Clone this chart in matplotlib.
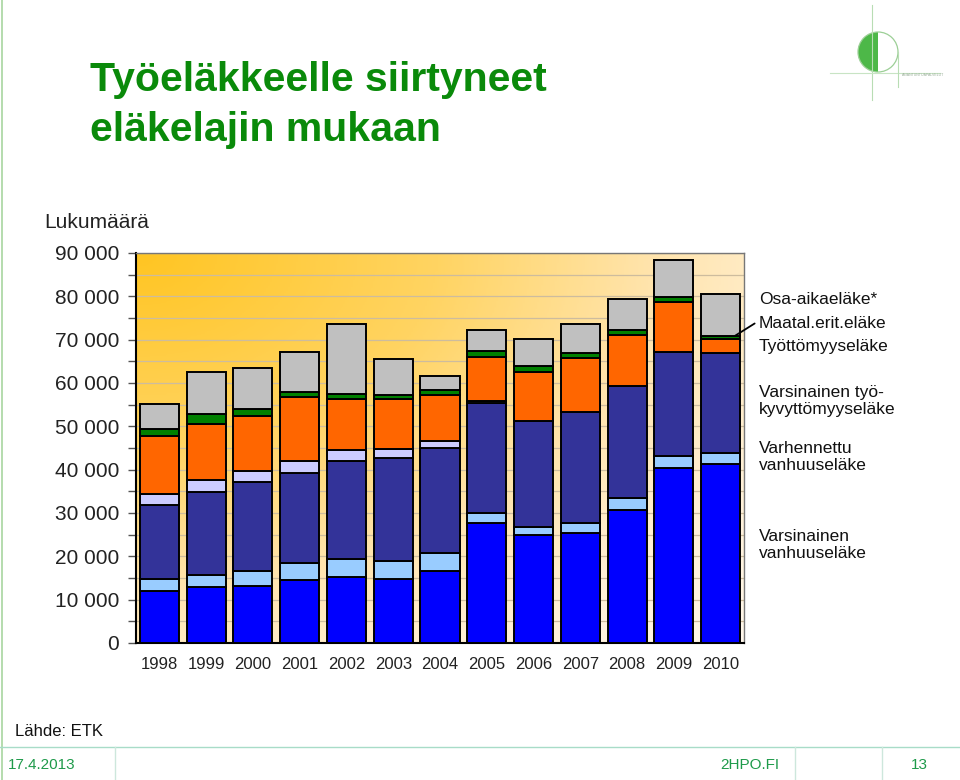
import numpy as np
import matplotlib
matplotlib.use("Agg")
import matplotlib.pyplot as plt
from matplotlib.patches import Ellipse, Wedge
from matplotlib.colors import LinearSegmentedColormap

years = ["1998", "1999", "2000", "2001", "2002", "2003", "2004",
         "2005", "2006", "2007", "2008", "2009", "2010"]

# stacked segments (bottom -> top)
varsinainen_vanhuus = [12000, 12900, 13200, 14500, 15200, 14800, 16600, 27600, 25000, 25500, 30700, 40500, 41400]
varhennettu_vanhuus = [2700, 2800, 3500, 4000, 4200, 4200, 4100, 2500, 1800, 2300, 2700, 2700, 2500]
tyokyvyttomyys = [17100, 19100, 20400, 20700, 22600, 23600, 24400, 25200, 24400, 25400, 25800, 24000, 23000]
yksilollinen = [2500, 2900, 2500, 2700, 2600, 2200, 1500, 600, 0, 0, 0, 0, 0]
tyottomyys = [13400, 12900, 12900, 14800, 11600, 11400, 10600, 10000, 11400, 12600, 11900, 11400, 3300]
maatal = [1700, 2200, 1500, 1300, 1300, 1000, 1200, 1500, 1300, 1100, 1100, 1200, 600]
osa_aika = [5800, 9700, 9500, 9100, 16100, 8300, 3200, 4800, 6200, 6700, 7100, 8600, 9800]

series = [varsinainen_vanhuus, varhennettu_vanhuus, tyokyvyttomyys, yksilollinen,
          tyottomyys, maatal, osa_aika]
colors = ["#0000FF", "#99CCFF", "#333399", "#CCCCFF", "#FF6600", "#008000", "#C0C0C0"]

yticks = [0, 10000, 20000, 30000, 40000, 50000, 60000, 70000, 80000, 90000]
ytick_labels = ["0", "10 000", "20 000", "30 000", "40 000", "50 000", "60 000",
                "70 000", "80 000", "90 000"]

legend_labels = [
    ("Osa-aikaeläke*", 300),
    ("Maatal.erit.eläke", 323),
    ("Työttömyyseläke", 346),
    ("Varsinainen työ-\nkyvyttömyyseläke", 401),
    ("Varhennettu\nvanhuuseläke", 457),
    ("Varsinainen\nvanhuuseläke", 545),
]

W, H = 960, 780
fig = plt.figure(figsize=(W / 100, H / 100), dpi=100)
fig.patch.set_facecolor("white")
plt.rcParams['font.family'] = ['Liberation Sans', 'DejaVu Sans']

def fx(px):
    return px / W

def fy(py):
    return 1 - py / H

ax = fig.add_axes([fx(136), fy(643), fx(744) - fx(136), fy(253) - fy(643)])

# gradient background: gold top-left -> pale cream bottom-right
cmap = LinearSegmentedColormap.from_list(
    "bg", [(0.0, "#FFC522"), (0.35, "#FFD462"), (0.6, "#FFE4AC"),
           (0.8, "#FFF0D5"), (1.0, "#FFF8EC")])
gx, gy = np.meshgrid(np.linspace(0, 1, 300), np.linspace(0, 1, 300))
grad = np.clip(np.sqrt(gx ** 2 + gy ** 2) / np.sqrt(2), 0, 1)
ax.imshow(grad, cmap=cmap, extent=[0, 1, 0, 1], transform=ax.transAxes,
          aspect="auto", origin="upper", zorder=0, vmin=0, vmax=1)

x = np.arange(len(years))
bottom = np.zeros(len(years))
for vals, c in zip(series, colors):
    v = np.array(vals, dtype=float)
    mask = v > 0
    ax.bar(x[mask], v[mask], bottom=bottom[mask], width=0.835, color=c,
           edgecolor="black", linewidth=1.4, zorder=3)
    bottom += v

ax.set_xlim(-0.5, len(years) - 0.5)
ax.set_ylim(0, 90000)
ax.set_yticks(yticks)
ax.set_yticklabels(ytick_labels, fontsize=15, color="#222222")
ax.set_yticks(np.arange(5000, 90000, 10000), minor=True)
ax.set_xticks(x)
ax.set_xticklabels(years, fontsize=12, color="#222222")
ax.tick_params(axis="x", length=0, pad=10)
ax.tick_params(axis="y", which="both", length=6, width=1, color="#555555", pad=6)
for yv in np.arange(5000, 90001, 5000):
    ax.axhline(yv, color="#CDBC9E", linewidth=0.9, zorder=1)
for s in ["top", "right"]:
    ax.spines[s].set_color("#777777")
    ax.spines[s].set_linewidth(1.0)
for s in ["left", "bottom"]:
    ax.spines[s].set_color("black")
    ax.spines[s].set_linewidth(1.5)

# y axis title
fig.text(fx(44), fy(222), "Lukumäärä", fontsize=15, color="#222222", va="center", ha="left")

# side labels
for lab, py in legend_labels:
    fig.text(fx(759), fy(py), lab, fontsize=12.5, color="#111111", va="center", ha="left",
             linespacing=1.2)

# pointer line to the small green segment of 2010
cum_green_2010 = sum(s[-1] for s in series[:5]) + maatal[-1] / 2
ax.annotate("", xy=(len(years) - 1 + 0.25, cum_green_2010),
            xytext=(fx(757), fy(322)), textcoords="figure fraction",
            arrowprops=dict(arrowstyle="-", color="black", lw=1.3),
            annotation_clip=False, zorder=5)

# title
title_font = ['Liberation Sans Narrow', 'Liberation Sans', 'DejaVu Sans']
fig.text(fx(90), fy(80), "Työeläkkeelle siirtyneet", fontsize=29.5, fontweight="bold",
         color="#0A8A0A", va="center", ha="left", family=title_font)
fig.text(fx(90), fy(130), "eläkelajin mukaan", fontsize=29.5, fontweight="bold",
         color="#0A8A0A", va="center", ha="left", family=title_font)

# logo
lax = fig.add_axes([0, 0, 1, 1], zorder=-1)
lax.set_xlim(0, W)
lax.set_ylim(H, 0)
lax.axis("off")
lax.add_patch(Wedge((878, 52), 20, 90, 270, facecolor="#4DB848", edgecolor="none"))
lax.add_patch(Ellipse((878, 52), 40, 40, facecolor="none", edgecolor="#9CCF96", lw=0.9))
lax.plot([872, 872], [5, 100], color="#B8DDB4", lw=0.8)
lax.plot([830, 940], [72.5, 72.5], color="#C8E4C4", lw=0.8)
lax.plot([898, 898], [52, 87], color="#B8DDB4", lw=0.8)
lax.text(902, 75, "ASIANTUNTIJAPALVELUT", fontsize=2.5, color="#9AAE9A",
         va="center", ha="left")

# slide frame lines
lax.plot([2, 2], [0, 780], color="#A8D5A0", lw=1.2)
lax.plot([0, 960], [747, 747], color="#A8DCC8", lw=1.0)
for xv in [115, 795, 882]:
    lax.plot([xv, xv], [747, 780], color="#CDE7DC", lw=1.0)

fig.text(fx(15), fy(732), "Lähde: ETK", fontsize=12, color="#111111", va="center", ha="left")
fig.text(fx(8), fy(765), "17.4.2013", fontsize=11, color="#1E9A4A", va="center", ha="left")
fig.text(fx(750), fy(765), "2HPO.FI", fontsize=11, color="#1E9A4A", va="center", ha="center")
fig.text(fx(919), fy(765), "13", fontsize=11, color="#1E9A4A", va="center", ha="center")

fig.savefig("out.png", dpi=100, facecolor="white")
